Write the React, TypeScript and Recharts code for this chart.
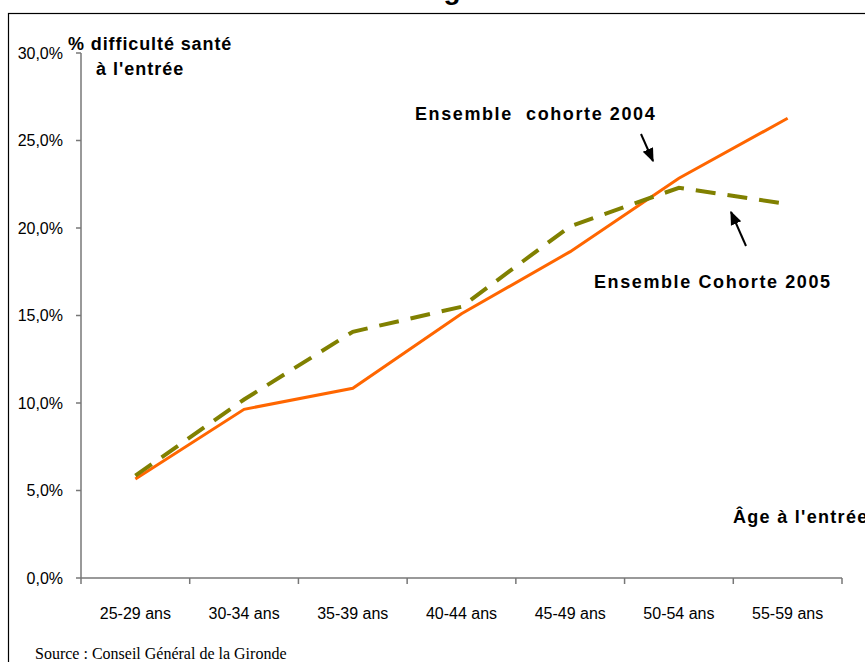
import { Line, LineChart, XAxis, YAxis } from "recharts";

const categories = [
    "25-29 ans",
    "30-34 ans",
    "35-39 ans",
    "40-44 ans",
    "45-49 ans",
    "50-54 ans",
    "55-59 ans",
];
const cohorte2004 = [5.66, 9.64, 10.84, 15.1, 18.65, 22.84, 26.27];
const cohorte2005 = [5.85, 10.2, 14.07, 15.5, 20.1, 22.3, 21.37];
const yTicks = [0, 5, 10, 15, 20, 25, 30];

const data = categories.map((age, i) => ({
    age,
    c2004: cohorte2004[i],
    c2005: cohorte2005[i],
}));

const sans = "'Liberation Sans', Arial, sans-serif";
const axisGrey = "#777";
const fmtPct = (v: number) => v.toFixed(1).replace(".", ",") + "%";

// plot is 761px wide, 7 categories -> half a band of padding on each side
const halfBand = 761 / 7 / 2;

// excel style: label centred in the band, tick marks on the band edges
function AgeTick(props: any) {
    const { x, y, payload, index } = props;
    const last = index === categories.length - 1;
    return (
        <g>
            <line x1={x - halfBand} y1={y} x2={x - halfBand} y2={y + 6} stroke={axisGrey} strokeWidth={1.5} />
            {last && (
                <line x1={x + halfBand} y1={y} x2={x + halfBand} y2={y + 6} stroke={axisGrey} strokeWidth={1.5} />
            )}
            <text x={x} y={y + 41} textAnchor="middle" fontSize={16} fontFamily={sans} fill="#000">
                {payload.value}
            </text>
        </g>
    );
}

const labelStyle = {
    fontFamily: sans,
    fontWeight: 700,
    fontSize: 18,
    letterSpacing: 1,
    fill: "#000",
};
const bigLabel = { ...labelStyle, letterSpacing: 1.6 };

export default function App() {
    return (
        <div
            style={{
                position: "absolute",
                left: 0,
                top: 0,
                width: 865,
                height: 662,
                background: "#fff",
                overflow: "hidden",
            }}
        >
            <LineChart
                width={865}
                height={662}
                data={data}
                margin={{ top: 53, right: 23, left: 8, bottom: 44 }}
            >
                <defs>
                    <marker
                        id="arrowHead"
                        viewBox="0 0 10 10"
                        refX="9"
                        refY="5"
                        markerWidth="7"
                        markerHeight="7"
                        orient="auto"
                    >
                        <path d="M0,1 L10,5 L0,9 z" fill="#000" />
                    </marker>
                </defs>
                {/* title sits above the crop, only the tail of its "g" shows */}
                <text x={452} y={-1} textAnchor="middle" style={{ ...labelStyle, fontSize: 28, letterSpacing: 0 }}>
                    g
                </text>
                <rect
                    x={8.5}
                    y={13.5}
                    width={900}
                    height={700}
                    fill="none"
                    stroke="#000"
                    strokeWidth={1.2}
                />
                <XAxis
                    dataKey="age"
                    interval={0}
                    padding={{ left: halfBand, right: halfBand }}
                    stroke={axisGrey}
                    strokeWidth={1.5}
                    tickLine={false}
                    tickSize={0}
                    tickMargin={0}
                    height={40}
                    tick={<AgeTick />}
                />
                <YAxis
                    width={73}
                    domain={[0, 30]}
                    ticks={yTicks}
                    tickFormatter={fmtPct}
                    tickSize={5}
                    tickMargin={13}
                    stroke={axisGrey}
                    strokeWidth={1.5}
                    tick={{ fontSize: 16, fill: "#000", fontFamily: sans }}
                />
                <Line
                    dataKey="c2004"
                    stroke="#ff6600"
                    strokeWidth={3}
                    dot={false}
                    isAnimationActive={false}
                />
                <Line
                    dataKey="c2005"
                    stroke="#808000"
                    strokeWidth={4}
                    strokeDasharray="20 12"
                    dot={false}
                    isAnimationActive={false}
                />
                <text x={68} y={50} style={{ ...labelStyle, letterSpacing: 0.9 }}>
                    % difficulté santé
                </text>
                <text x={96} y={75} style={labelStyle}>
                    à l'entrée
                </text>
                <text x={415} y={120} style={bigLabel}>
                    {"Ensemble\u00a0 cohorte 2004"}
                </text>
                <text x={594} y={288} style={bigLabel}>
                    Ensemble Cohorte 2005
                </text>
                <text x={733} y={523} style={{ ...labelStyle, letterSpacing: 1.3 }}>
                    Âge à l'entrée
                </text>
                <line
                    x1={641}
                    y1={134}
                    x2={653}
                    y2={161}
                    stroke="#000"
                    strokeWidth={2}
                    markerEnd="url(#arrowHead)"
                />
                <line
                    x1={746}
                    y1={246}
                    x2={731}
                    y2={212}
                    stroke="#000"
                    strokeWidth={2}
                    markerEnd="url(#arrowHead)"
                />
                <text
                    x={35}
                    y={659}
                    style={{
                        fontFamily: "'Liberation Serif', 'Times New Roman', serif",
                        fontSize: 16,
                        fill: "#000",
                    }}
                >
                    Source : Conseil Général de la Gironde
                </text>
            </LineChart>
        </div>
    );
}
